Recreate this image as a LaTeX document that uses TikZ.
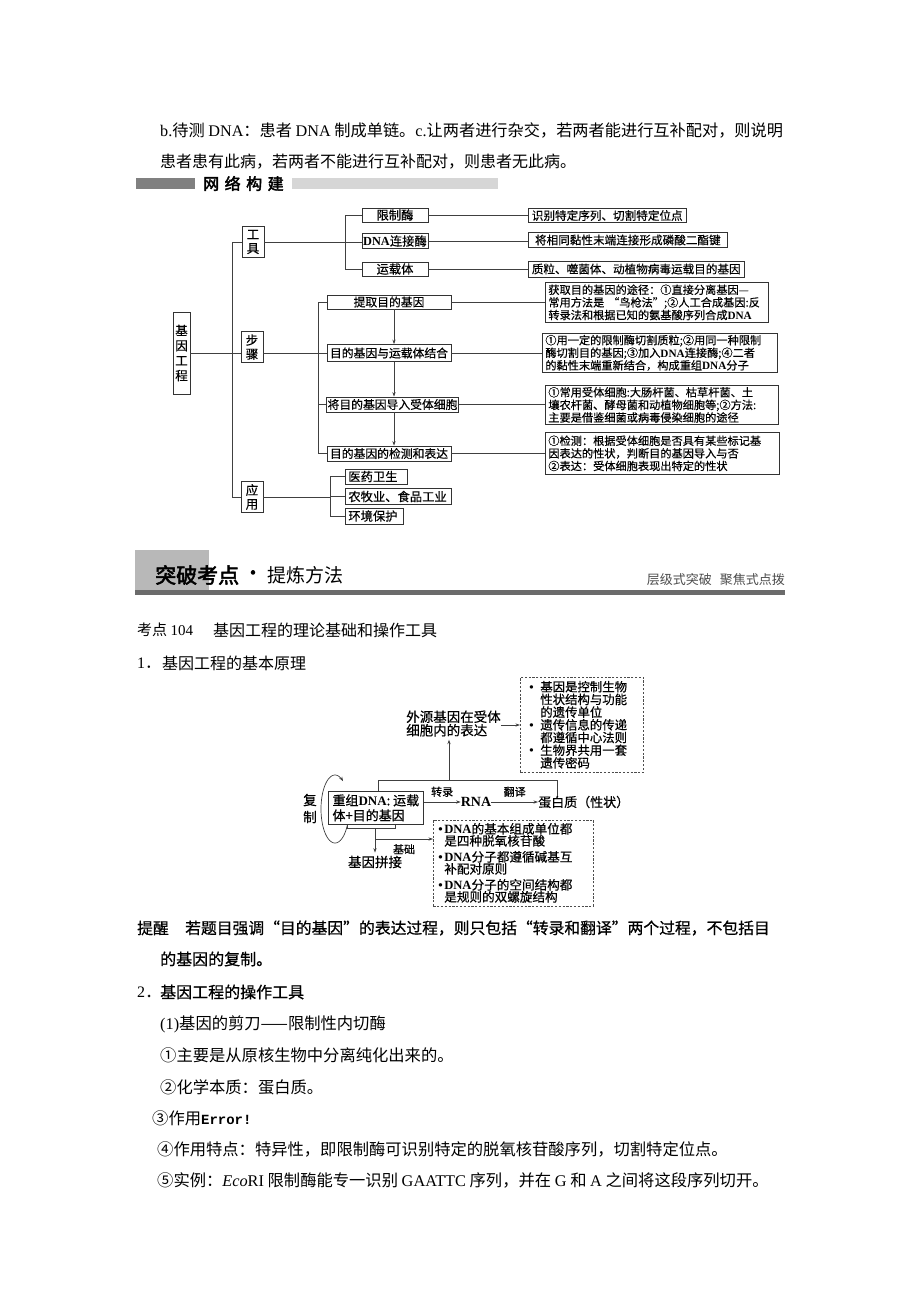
\documentclass[tikz,border=0pt]{standalone}
\usepackage{fontspec}
\setmainfont{Noto Sans CJK SC}
\newfontfamily\lat{Liberation Serif}
\newfontfamily\mono{Liberation Mono}
\newfontfamily\cjkb{Noto Sans CJK SC}[FakeBold=2.5]
\newfontfamily\cjkm{Noto Sans CJK SC}[FakeBold=0.7]
\newfontfamily\cjks{Noto Sans CJK SC}[FakeBold=0.4]
\usetikzlibrary{arrows.meta}
\newcommand\setfs[1]{\fontsize{#1}{#1}\selectfont}
\newcommand\dna{{\lat\bfseries DNA}}
\newcommand\bul{{\lat\bfseries •}}
\tikzset{
 box/.style={draw=black!80, line width=0.7pt, fill=white, inner sep=0pt},
 vbox/.style={box, minimum width=22pt, minimum height=31pt, align=center, font=\fontsize{12.5}{14}\selectfont\cjks},
 tbox/.style={box, minimum width=66pt, font=\setfs{12.3}\cjks},
 rbox/.style={box, anchor=west, inner xsep=3.5pt, font=\setfs{11.6}\cjks},
 sbox/.style={box, minimum width=124pt, font=\setfs{11.8}\cjks},
 abox/.style={box, anchor=west, inner xsep=3pt, align=left, font=\setfs{12.3}\cjks},
 pbox/.style={box, anchor=north west, align=left, inner xsep=3pt, inner ysep=1.5pt, font=\fontsize{11.2}{12.6}\selectfont\cjks},
 conn/.style={draw=black!75, line width=0.7pt},
 arr/.style={conn, -{Stealth[length=4.5pt,width=3.2pt]}},
 dbox/.style={draw=black!70, dash pattern=on 2.2pt off 1.6pt, line width=0.6pt},
 plain/.style={inner sep=0pt},
 txt/.style={anchor=west, inner sep=0pt},
}
\begin{document}
\begin{tikzpicture}[x=1pt,y=-1pt]
\useasboundingbox (0,0) rectangle (920,1302);
\fill[white] (0,0) rectangle (920,1302);

% ---- top text
\node[txt, font=\setfs{16.2}] (t1) at (160,130) {{\lat b.}待测 {\lat DNA}：患者 {\lat DNA} 制成单链。{\lat c.}让两者进行杂交，若两者能进行互补配对，则说明};
\node[txt, font=\setfs{16}] (t2) at (160,162) {患者患有此病，若两者不能进行互补配对，则患者无此病。};

% ---- header 1
\fill[black!50] (136,178) rectangle (195,189);
\node[txt, font=\setfs{16}\cjkb] (h1) at (203,183.5) {网\hspace{5.5pt}络\hspace{5.5pt}构\hspace{5.5pt}建};
\fill[black!16] (292,178) rectangle (498,189);

% ---- concept map
\node[box, minimum width=17pt, minimum height=82pt, align=center, font=\fontsize{12.5}{15}\selectfont\cjks] (gc) at (181.5,353) {基\\因\\工\\程};
\node[vbox] (gj) at (253,242) {工\\具};
\node[vbox] (bz) at (252,347) {步\\骤};
\node[vbox] (yy) at (252,497) {应\\用};
\coordinate (tt) at (232,242);
\coordinate (tb) at (232,497);
\draw[conn] (gj.west) -- (tt) -- (tb) -- (yy.west);
\draw[conn] (gc.east) -- (gc.east -| bz.west);

% tools
\node[tbox, minimum height=14pt] (xzm) at (395,215) {限制酶};
\node[tbox, minimum height=15pt] (dnal) at (395,241) {\dna 连接酶};
\node[tbox, minimum height=14pt] (yzt) at (395,269) {运载体};
\draw[conn] (gj.east) -- (gj.east -| dnal.west);
\coordinate (tv) at (345,0);
\draw[conn] (xzm.west) -- (xzm.west -| tv) -- (yzt.west -| tv) -- (yzt.west);
\node[rbox, minimum height=14pt] (r1) at (528,215.5) {识别特定序列、切割特定位点};
\node[rbox, minimum height=15pt, minimum width=199pt] (r2) at (528,240) {将相同黏性末端连接形成磷酸二酯键};
\node[rbox, minimum height=16pt, minimum width=215pt] (r3) at (528,269) {质粒、噬菌体、动植物病毒运载目的基因};
\draw[conn] (xzm.east) -- (xzm.east -| r1.west);
\draw[conn] (dnal.east) -- (dnal.east -| r2.west);
\draw[conn] (yzt.east) -- (yzt.east -| r3.west);

% steps
\node[sbox, minimum height=14pt] (s1) at (389,302) {提取目的基因};
\node[sbox, minimum height=17pt] (s2) at (389,353) {目的基因与运载体结合};
\node[sbox, minimum height=15pt, minimum width=132pt] (s3) at (392.5,404.5) {将目的基因导入受体细胞};
\node[sbox, minimum height=15pt] (s4) at (389,453.5) {目的基因的检测和表达};
\coordinate (sv) at (318,0);
\draw[conn] (bz.east |- gc.east) -- (s2.west |- gc.east);
\draw[conn] (s1.west) -- (s1.west -| sv) -- (s4.west -| sv) -- (s4.west);
\draw[conn] (s3.west -| sv) -- (s3.west);
\coordinate (ax) at (394,0);
\draw[arr] (s1.south -| ax) -- (s2.north -| ax);
\draw[arr] (s2.south -| ax) -- (s3.north -| ax);
\draw[arr] (s3.south -| ax) -- (s4.north -| ax);

\node[pbox, minimum width=223pt, minimum height=40pt, text width=217pt] (p1) at (545,282) {获取目的基因的途径：①直接分离基因—\\常用方法是 “鸟枪法”;②人工合成基因:反\\转录法和根据已知的氨基酸序列合成\dna};
\node[pbox, minimum width=235pt, minimum height=39pt, text width=229pt] (p2) at (542,333) {①用一定的限制酶切割质粒;②用同一种限制\\酶切割目的基因;③加入\dna 连接酶;④二者\\的黏性末端重新结合，构成重组\dna 分子};
\node[pbox, minimum width=233pt, minimum height=39pt, text width=227pt] (p3) at (545,385) {①常用受体细胞:大肠杆菌、枯草杆菌、土\\壤农杆菌、酵母菌和动植物细胞等;②方法:\\主要是借鉴细菌或病毒侵染细胞的途径};
\node[pbox, minimum width=234pt, minimum height=42pt, text width=228pt] (p4) at (545,432) {①检测：根据受体细胞是否具有某些标记基\\因表达的性状，判断目的基因导入与否\\②表达：受体细胞表现出特定的性状};
\draw[conn] (s1.east) -- (s1.east -| p1.west);
\draw[conn] (s2.east) -- (s2.east -| p2.west);
\draw[conn] (s3.east) -- (s3.east -| p3.west);
\draw[conn] (s4.east) -- (s4.east -| p4.west);

% applications
\node[abox, minimum height=15pt, text width=56pt] (a1) at (345,476.5) {医药卫生};
\node[abox, minimum height=16pt, text width=100pt] (a2) at (345,496.5) {农牧业、食品工业};
\node[abox, minimum height=16pt, text width=52pt] (a3) at (345,516) {环境保护};
\coordinate (av) at (330,0);
\draw[conn] (yy.east) -- (yy.east -| av);
\draw[conn] (a1.west) -- (a1.west -| av) -- (a3.west -| av) -- (a3.west);
\draw[conn] (a2.west -| av) -- (a2.west);

% ---- header 2
\fill[black!28] (135,550) rectangle (209,590);
\fill[black!58] (135,590) rectangle (785,595);
\node[txt, font=\setfs{21}\cjkb] (h2a) at (155,575) {突破考点};
\node[plain, font=\setfs{19}\cjkb] (h2d) at (253,575) {·};
\node[txt, font=\setfs{19}] (h2b) at (267,575) {提炼方法};
\node[plain, anchor=east, font=\setfs{13}, text=black!70] (h2c) at (785,580) {层级式突破\hspace{8pt}聚焦式点拨};

\node[txt, font=\setfs{15}] (k1) at (137,630) {考点 {\lat 104}};
\node[txt, font=\setfs{16}] (k2) at (213,630) {基因工程的理论基础和操作工具};
\node[txt, font=\setfs{16}] (n1a) at (137,663) {{\lat 1}．};
\node[txt, font=\setfs{16}] (n1b) at (162,663) {基因工程的基本原理};

% ---- diagram 2
\node[dbox, anchor=north west, minimum width=123pt, minimum height=95pt, text width=105pt, inner xsep=9pt, inner ysep=0pt, align=left, font=\fontsize{12.4}{12.7}\selectfont\cjks] (dA) at (520,677)
 {\makebox[11pt][l]{\bul}基因是控制生物\\\hspace*{11pt}性状结构与功能\\\hspace*{11pt}的遗传单位\\\makebox[11pt][l]{\bul}遗传信息的传递\\\hspace*{11pt}都遵循中心法则\\\makebox[11pt][l]{\bul}生物界共用一套\\\hspace*{11pt}遗传密码};
\node[plain, align=left, font=\fontsize{13.5}{13.5}\selectfont\cjks] (wy) at (453.5,723.5) {外源基因在受体\\细胞内的表达};
\draw[arr] ([yshift=-1.5pt]wy.east) -- ([yshift=-1.5pt]wy.east -| dA.west);

% replication loop (drawn before the box so that the box hides its right part)
\draw[arr] plot[domain=20:305, samples=80, smooth] ({335+14*cos(\x)},{809+34*sin(\x)});
\node[box, anchor=north west, minimum width=95pt, minimum height=33pt, align=left, inner xsep=4pt, font=\fontsize{13}{15}\selectfont\cjkm] (rB) at (328,791) {重组\dna: 运载\\体+目的基因};
\node[plain, align=center, font=\fontsize{13.5}{17}\selectfont\cjks] (fz) at (310,808.5) {复\\制};
\draw[conn] ([xshift=19pt]rB.south west) -- ++(0,4) -- ++(48,0) -- ++(0,-4);

\node[plain, font=\setfs{14}\lat\bfseries] (rna) at (476,802) {RNA};
\node[txt, font=\setfs{13}\cjks] (dbz) at (538,802) {蛋白质（性状）};
\draw[arr] (rB.east |- rna.west) -- (rna.west) node[midway, above=1.5pt, font=\setfs{11}\cjks] {转录};
\draw[arr] (rna.east) -- (dbz.west) node[midway, above=1.5pt, font=\setfs{11}\cjks] {翻译};

\coordinate (jl) at (378,780);
\coordinate (jr) at (557,780);
\coordinate (jt) at (449,780);
\draw[conn] (rB.north -| jl) -- (jl) -- (jr) -- (dbz.north -| jr);
\draw[arr] (jt) -- ([yshift=-3pt]wy.south -| jt);

\node[dbox, anchor=north west, minimum width=160pt, minimum height=86pt, text width=150pt, inner xsep=5pt, inner ysep=0pt, align=left, font=\fontsize{12.6}{12}\selectfont\cjks] (dC) at (433,819.5)
 {\makebox[6pt][l]{\bul}\dna 的基本组成单位都\\\hspace*{6pt}是四种脱氧核苷酸\\[4pt]\makebox[6pt][l]{\bul}\dna 分子都遵循碱基互\\\hspace*{6pt}补配对原则\\[4pt]\makebox[6pt][l]{\bul}\dna 分子的空间结构都\\\hspace*{6pt}是规则的双螺旋结构};

\node[plain, font=\setfs{13.5}\cjks] (jpj) at (375,862) {基因拼接};
\coordinate (jx) at (375,828);
\coordinate (jy) at (375,839);
\draw[arr] (jx) -- ([yshift=3pt]jpj.north -| jx);
\draw[arr] (jy) -- (jy -| dC.west) node[midway, below=1.5pt, font=\setfs{11}\cjks] {基础};

% ---- bottom text
\node[txt, font=\setfs{15.8}\cjkm] (b1a) at (137,928) {提醒};
\node[txt, font=\setfs{15.8}\cjkm] (b1b) at (185,928) {若题目强调“目的基因”的表达过程，则只包括“转录和翻译”两个过程，不包括目};
\node[txt, font=\setfs{16}\cjkm] (b2) at (160,959) {的基因的复制。};
\node[txt, font=\setfs{16}\cjkm] (b3a) at (137,992) {{\lat 2}．};
\node[txt, font=\setfs{16}\cjkm] (b3b) at (160,992) {基因工程的操作工具};
\node[txt, font=\setfs{16.3}] (b4) at (160,1024) {{\lat (1)}基因的剪刀——限制性内切酶};
\node[txt, font=\setfs{16.3}] (b5) at (160,1055) {①主要是从原核生物中分离纯化出来的。};
\node[txt, font=\setfs{16.3}] (b6) at (160,1087) {②化学本质：蛋白质。};
\node[txt, font=\setfs{16.3}] (b7) at (152,1118) {③作用{\mono\bfseries\fontsize{14}{14}\selectfont Error!}};
\node[txt, font=\setfs{16.3}] (b8) at (157,1149) {④作用特点：特异性，即限制酶可识别特定的脱氧核苷酸序列，切割特定位点。};
\node[txt, font=\setfs{16.3}] (b9) at (157,1180) {⑤实例：{\lat\itshape Eco}{\lat RI} 限制酶能专一识别 {\lat GAATTC} 序列，并在 {\lat G} 和 {\lat A} 之间将这段序列切开。};
\end{tikzpicture}
\end{document}
